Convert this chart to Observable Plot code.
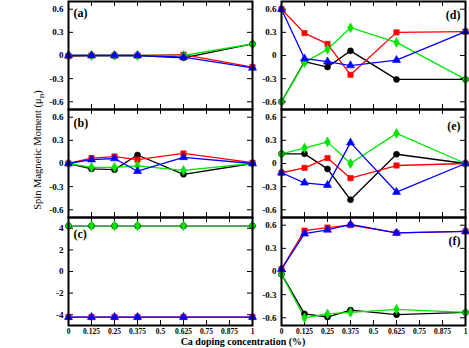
<!DOCTYPE html>
<html><head><meta charset="utf-8">
<script src="https://cdn.jsdelivr.net/npm/d3@7"></script>
<script src="https://cdn.jsdelivr.net/npm/@observablehq/plot@0.6"></script>
<style>
body{margin:0;background:#fff;}
#wrap{position:relative;width:469px;height:348px;overflow:hidden;font-family:"Liberation Serif","Times New Roman",serif;background:#fff;}
#wrap svg{position:absolute;}
</style></head><body><div id="wrap"></div>
<script>
// ---------- data ----------
const xValues = [0, 0.125, 0.25, 0.375, 0.625, 1];
const xTicks = [0, 0.125, 0.25, 0.375, 0.5, 0.625, 0.75, 0.875, 1];
const xTickLabels = ["0", "0.125", "0.25", "0.375", "0.5", "0.625", "0.75", "0.875", "1"];
const seriesNames = ["S1", "S2", "S3", "S4"];
const seriesColors = ["#000000", "#ff0000", "#00e600", "#0000ff"];
const seriesSymbols = ["circle", "square", "diamond", "triangle"];

const smallTicks = [-0.6, -0.3, 0, 0.3, 0.6];
const smallTickLabels = ["-0.6", "-0.3", "0", "0.3", "0.6"];
const bigTicks = [-4, -2, 0, 2, 4];
const bigTickLabels = ["-4", "-2", "0", "2", "4"];

// panel (a)
const aBlack = [0, 0, 0, 0, -0.03, 0.15];
const aRed   = [-0.01, 0, 0, 0, 0.01, -0.15];
const aGreen = [0, 0, 0, 0, 0, 0.15];
const aBlue  = [0, 0, 0, 0, -0.02, -0.16];
// panel (b)
const bBlack = [0, -0.07, -0.08, 0.11, -0.14, 0];
const bRed   = [0, 0.07, 0.09, 0.05, 0.13, 0.01];
const bGreen = [0, -0.05, -0.05, -0.03, -0.09, 0];
const bBlue  = [0, 0.05, 0.065, -0.1, 0.08, 0];
// panel (c)
const cBlack = [4.22, 4.22, 4.22, 4.22, 4.22, 4.22];
const cRed   = [-4.22, -4.22, -4.22, -4.22, -4.22, -4.22];
const cGreen = [4.24, 4.24, 4.24, 4.24, 4.24, 4.24];
const cBlue  = [-4.22, -4.22, -4.22, -4.22, -4.22, -4.22];
// panel (d)
const dBlack = [-0.6, -0.08, -0.15, 0.06, -0.31, -0.31];
const dRed   = [0.6, 0.29, 0.15, -0.25, 0.3, 0.31];
const dGreen = [-0.6, -0.09, 0.08, 0.36, 0.17, -0.31];
const dBlue  = [0.6, -0.04, -0.08, -0.13, -0.06, 0.31];
// panel (e)
const eBlack = [0.125, 0.125, -0.07, -0.47, 0.12, 0];
const eRed   = [-0.12, -0.057, 0.07, -0.19, -0.026, 0];
const eGreen = [0.125, 0.2, 0.28, 0, 0.39, 0];
const eBlue  = [-0.12, -0.25, -0.28, 0.27, -0.37, 0];
// panel (f)
const fBlack = [-0.035, -0.55, -0.59, -0.5, -0.56, -0.53];
const fRed   = [0.03, 0.53, 0.57, 0.6, 0.5, 0.52];
const fGreen = [-0.035, -0.6, -0.55, -0.53, -0.49, -0.53];
const fBlue  = [0.03, 0.49, 0.54, 0.61, 0.5, 0.52];

const panelLabels = ["(a)", "(b)", "(c)", "(d)", "(e)", "(f)"];
const xTitle = "Ca doping concentration (%)";

// ---------- layout ----------
const W = 184, H = 108;
const ML = 38, MR = 6, MT = 4;
const wrap = document.getElementById("wrap");

function rows(arrs) {
  const out = [];
  arrs.forEach((arr, s) => arr.forEach((v, i) => out.push({series: seriesNames[s], x: xValues[i], y: v})));
  return out;
}

function panel({arrs, domain, ticks, tickLabels, label, right, frameLeft, frameTop, showX, labelDy}) {
  const data = rows(arrs);
  const MB = showX ? 18 : 4;
  const p = Plot.plot({
    width: ML + W + MR, height: MT + H + MB,
    marginLeft: ML, marginRight: MR, marginTop: MT, marginBottom: MB,
    x: {domain: [0, 1], axis: null},
    y: {domain, axis: null},
    color: {type: "ordinal", domain: seriesNames, range: seriesColors},
    symbol: {domain: seriesNames, range: seriesSymbols},
    style: {background: "transparent", overflow: "visible", fontFamily: "'Liberation Serif', serif"},
    marks: [
      Plot.tickX(xTicks, {x: d => d, insetBottom: H - 5, stroke: "black", strokeWidth: 1}),
      Plot.tickX(xTicks, {x: d => d, insetTop: H - 5, stroke: "black", strokeWidth: 1}),
      Plot.tickY(ticks, {y: d => d, insetRight: W - 5, stroke: "black", strokeWidth: 1}),
      Plot.tickY(ticks, {y: d => d, insetLeft: W - 5, stroke: "black", strokeWidth: 1}),
      Plot.axisY(ticks, {anchor: "left", label: null, tickSize: 0, tickPadding: 5, tickFormat: (d, i) => tickLabels[i],
        fontSize: 9, fontWeight: "bold", fill: "black"}),
      showX ? Plot.axisX(xTicks, {anchor: "bottom", label: null, tickSize: 0, tickPadding: 3, tickFormat: (d, i) => xTickLabels[i],
        fontSize: 7.5, fontWeight: "bold", fill: "black"}) : null,
      Plot.line(data, {x: "x", y: "y", z: "series", stroke: "series", strokeWidth: 1.3}),
      Plot.dot(data, {x: "x", y: "y", symbol: "series", fill: "series", stroke: "series", strokeWidth: 0.6, r: 3}),
      Plot.frame({stroke: "black", strokeWidth: 2}),
      Plot.text([label], {text: d => d, frameAnchor: right ? "top-right" : "top-left", textAnchor: right ? "end" : "start",
        dx: right ? -5 : 5, dy: labelDy, lineAnchor: "middle", fontSize: 12, fontWeight: "bold", fill: "black"})
    ]
  });
  p.style.left = (frameLeft - ML) + "px";
  p.style.top = (frameTop - MT) + "px";
  wrap.appendChild(p);
}

const LX = 68, RX = 281;
const tops = [1, 109, 217];
panel({arrs: [aBlack, aRed, aGreen, aBlue], domain: [-0.7, 0.7], ticks: smallTicks, tickLabels: smallTickLabels, label: panelLabels[0], right: false, frameLeft: LX, frameTop: tops[0], showX: false, labelDy: 12});
panel({arrs: [bBlack, bRed, bGreen, bBlue], domain: [-0.7, 0.7], ticks: smallTicks, tickLabels: smallTickLabels, label: panelLabels[1], right: false, frameLeft: LX, frameTop: tops[1], showX: false, labelDy: 14});
panel({arrs: [cBlack, cRed, cGreen, cBlue], domain: [-5, 5], ticks: bigTicks, tickLabels: bigTickLabels, label: panelLabels[2], right: false, frameLeft: LX, frameTop: tops[2], showX: true, labelDy: 17});
panel({arrs: [dBlack, dRed, dGreen, dBlue], domain: [-0.7, 0.7], ticks: smallTicks, tickLabels: smallTickLabels, label: panelLabels[3], right: true, frameLeft: RX, frameTop: tops[0], showX: false, labelDy: 14});
panel({arrs: [eBlack, eRed, eGreen, eBlue], domain: [-0.7, 0.7], ticks: smallTicks, tickLabels: smallTickLabels, label: panelLabels[4], right: true, frameLeft: RX, frameTop: tops[1], showX: false, labelDy: 17});
panel({arrs: [fBlack, fRed, fGreen, fBlue], domain: [-0.7, 0.7], ticks: smallTicks, tickLabels: smallTickLabels, label: panelLabels[5], right: true, frameLeft: RX, frameTop: tops[2], showX: true, labelDy: 24});

// axis titles
const svg = d3.select(wrap).append("svg").attr("width", 469).attr("height", 348).style("left", "0px").style("top", "0px").style("pointer-events", "none");
const yt = svg.append("text").attr("transform", "translate(41,150) rotate(-90)").attr("text-anchor", "middle")
  .attr("font-family", "'Liberation Serif', serif").attr("font-size", 10.5).attr("fill", "black");
yt.append("tspan").text("Spin Magnetic Moment (\u03bc");
yt.append("tspan").attr("font-size", 7).attr("dy", 3).text("B");
yt.append("tspan").attr("dy", -3).text(")");
svg.append("text").attr("x", 243).attr("y", 345).attr("text-anchor", "middle")
  .attr("font-family", "'Liberation Serif', serif").attr("font-size", 10).attr("font-weight", "bold").attr("fill", "black")
  .text(xTitle);
</script></body></html>
